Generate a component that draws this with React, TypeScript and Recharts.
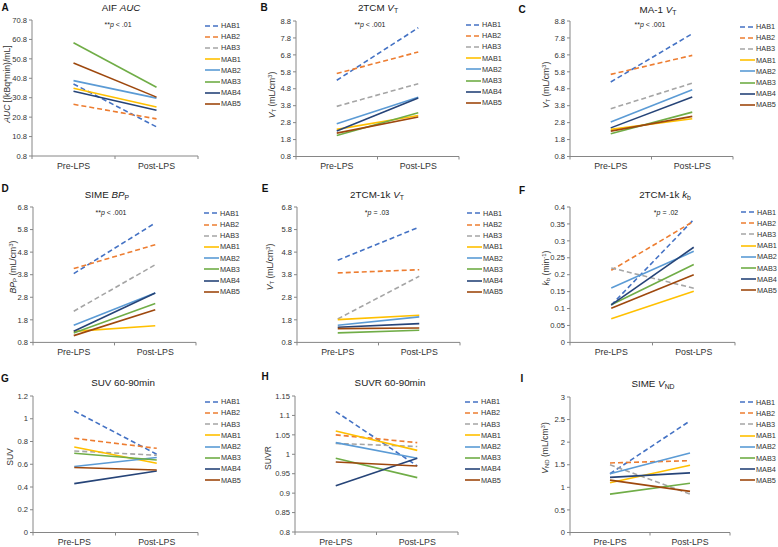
import React from 'react'
import { LineChart, Line, XAxis, YAxis } from 'recharts'

// ── Shared bits ───────────────────────────────────────────────────────────────

const FONT = '"Liberation Sans", Arial, sans-serif'
const AXIS = '#868686'
const TEXT = '#333333'

const CATEGORIES = ['Pre-LPS', 'Post-LPS']
const SERIES = ['HAB1', 'HAB2', 'HAB3', 'MAB1', 'MAB2', 'MAB3', 'MAB4', 'MAB5']
const COLORS = ['#4472C4', '#ED7D31', '#A5A5A5', '#FFC000', '#5B9BD5', '#70AD47', '#264478', '#9E480E']
const DASHED = [true, true, true, false, false, false, false, false]

// ── Values (series order as SERIES) ───────────────────────────────────────────

const aucPre = [37.9, 27.4, null, 35.7, 39.6, 59.1, 34.1, 48.7]
const aucPost = [15.8, 19.9, null, 26.0, 30.6, 36.2, 24.3, 31.1]
const aucTicks = [0.8, 10.8, 20.8, 30.8, 40.8, 50.8, 60.8, 70.8]

const tcmPre = [5.3, 5.7, 3.76, 2.4, 2.73, 2.04, 2.3, 2.18]
const tcmPost = [8.4, 6.97, 5.1, 3.22, 4.3, 3.38, 4.25, 3.13]
const ma1Pre = [5.2, 5.65, 3.62, 2.4, 2.83, 2.14, 2.49, 2.3]
const ma1Post = [8.05, 6.77, 5.13, 3.03, 4.74, 3.42, 4.31, 3.17]
const vt8Ticks = [0.8, 1.8, 2.8, 3.8, 4.8, 5.8, 6.8, 7.8, 8.8]

const bpPre = [3.85, 4.07, 2.18, 1.29, 1.56, 1.22, 1.29, 1.1]
const bpPost = [6.09, 5.13, 4.24, 1.54, 2.99, 2.52, 2.99, 2.25]
const tcm1kPre = [4.44, 3.88, 1.84, 1.81, 1.56, 1.22, 1.47, 1.41]
const tcm1kPost = [5.91, 4.02, 3.73, 2.0, 1.93, 1.34, 1.63, 1.44]
const vt6Ticks = [0.8, 1.8, 2.8, 3.8, 4.8, 5.8, 6.8]

const kbPre = [0.11, 0.213, 0.22, 0.07, 0.161, 0.111, 0.111, 0.101]
const kbPost = [0.363, 0.358, 0.16, 0.151, 0.269, 0.23, 0.281, 0.2]
const kbTicks = [0, 0.05, 0.1, 0.15, 0.2, 0.25, 0.3, 0.35, 0.4]

const suvPre = [1.068, 0.828, 0.717, 0.752, 0.58, 0.697, 0.43, 0.571]
const suvPost = [0.688, 0.74, 0.679, 0.609, 0.659, 0.638, 0.541, 0.55]
const suvTicks = [0, 0.2, 0.4, 0.6, 0.8, 1, 1.2]

const suvrPre = [1.11, 1.05, 1.028, 1.06, 1.03, 0.99, 0.919, 0.98]
const suvrPost = [0.97, 1.03, 1.02, 1.01, 0.99, 0.94, 0.99, 0.97]
const suvrTicks = [0.8, 0.85, 0.9, 0.95, 1, 1.05, 1.1, 1.15]

const vndPre = [1.3, 1.54, 1.5, 1.1, 1.3, 0.85, 1.22, 1.16]
const vndPost = [2.47, 1.59, 0.85, 1.49, 1.76, 1.09, 1.32, 0.91]
const vndTicks = [0, 0.5, 1, 1.5, 2, 2.5, 3]

// x axis: categories sit at 0.5 / 1.5, tick marks between them
const X_TICKS = [0, 0.5, 1, 1.5, 2]

// ── Panel pieces ──────────────────────────────────────────────────────────────

type Rect = { left: number; right: number; top: number; bottom: number }

type PanelDef = {
  letter: string
  letterPos: [number, number]
  title: React.ReactNode
  titlePos: [number, number]
  yLabel: React.ReactNode
  yLabelPos: [number, number]
  pText?: React.ReactNode
  pPos?: [number, number]
  pre: (number | null)[]
  post: (number | null)[]
  ticks: number[]
  plot: Rect
  legend: [number, number]
}

function XTick(props: any) {
  const { x, y, payload } = props
  const v = payload.value
  if (Number.isInteger(v)) {
    return <line x1={x} x2={x} y1={y} y2={y + 3} stroke={AXIS} strokeWidth={1} />
  }
  return (
    <text x={x} y={y + 12.5} textAnchor="middle" fontSize={8.8} fill={TEXT} fontFamily={FONT}>
      {CATEGORIES[Math.floor(v)]}
    </text>
  )
}

const YW = 32
const MT = 6
const MR = 4
const XH = 22

function PanelChart({ def }: { def: PanelDef }) {
  const { plot, ticks } = def
  const pw = plot.right - plot.left
  const ph = plot.bottom - plot.top
  const rows = CATEGORIES.map((c, ci) => {
    const row: Record<string, number | string | null> = { x: ci + 0.5, cat: c }
    SERIES.forEach((s, si) => {
      row[s] = ci === 0 ? def.pre[si] : def.post[si]
    })
    return row
  })
  return (
    <div style={{ position: 'absolute', left: plot.left - YW, top: plot.top - MT }}>
      <LineChart
        width={YW + pw + MR}
        height={MT + ph + XH}
        data={rows}
        margin={{ top: MT, right: MR, bottom: 0, left: 0 }}
      >
        <XAxis
          type="number"
          dataKey="x"
          domain={[0, 2]}
          ticks={X_TICKS}
          interval={0}
          height={XH}
          tickLine={false}
          tickSize={0}
          tickMargin={0}
          axisLine={{ stroke: AXIS, strokeWidth: 1 }}
          tick={<XTick />}
        />
        <YAxis
          type="number"
          domain={[ticks[0], ticks[ticks.length - 1]]}
          ticks={ticks}
          interval={0}
          width={YW}
          tickSize={3}
          tickMargin={2}
          axisLine={{ stroke: AXIS, strokeWidth: 1 }}
          tickLine={{ stroke: AXIS, strokeWidth: 1 }}
          tick={{ fontSize: 7.6, fill: TEXT, fontFamily: FONT }}
          tickFormatter={(v: number) => String(v)}
        />
        {SERIES.map((s, i) => (
          <Line
            key={s}
            type="linear"
            dataKey={s}
            stroke={COLORS[i]}
            strokeWidth={1.6}
            strokeDasharray={DASHED[i] ? '5 3' : undefined}
            dot={false}
            activeDot={false}
            isAnimationActive={false}
          />
        ))}
      </LineChart>
    </div>
  )
}

function LegendBlock({ x, y }: { x: number; y: number }) {
  return (
    <>
      {SERIES.map((s, i) => (
        <div
          key={s}
          style={{
            position: 'absolute', left: x, top: y + i * 11.2 - 5, height: 10,
            display: 'flex', alignItems: 'center', fontSize: 7.3, fontFamily: FONT,
            color: TEXT, whiteSpace: 'nowrap',
          }}
        >
          <svg width={15} height={10} style={{ display: 'block' }}>
            <line
              x1={0} x2={15} y1={5} y2={5}
              stroke={COLORS[i]} strokeWidth={1.6}
              strokeDasharray={DASHED[i] ? '5 3' : undefined}
            />
          </svg>
          <span style={{ marginLeft: 1 }}>{s}</span>
        </div>
      ))}
    </>
  )
}

const centered = (x: number, y: number): React.CSSProperties => ({
  position: 'absolute', left: x, top: y, transform: 'translate(-50%, -50%)', whiteSpace: 'nowrap',
})

function Panel({ def }: { def: PanelDef }) {
  return (
    <>
      <div style={{ ...centered(def.letterPos[0], def.letterPos[1]), fontWeight: 700, fontSize: 10, fontFamily: FONT, color: '#111' }}>
        {def.letter}
      </div>
      <div style={{ ...centered(def.titlePos[0], def.titlePos[1]), fontSize: 9.8, fontFamily: FONT, color: '#222' }}>
        {def.title}
      </div>
      {def.pText && def.pPos && (
        <div style={{ ...centered(def.pPos[0], def.pPos[1]), fontSize: 7, fontFamily: FONT, color: '#222' }}>
          {def.pText}
        </div>
      )}
      <div
        style={{
          position: 'absolute', left: def.yLabelPos[0], top: def.yLabelPos[1],
          transform: 'translate(-50%, -50%) rotate(-90deg)', whiteSpace: 'nowrap',
          fontSize: 8.6, fontFamily: FONT, color: TEXT,
        }}
      >
        {def.yLabel}
      </div>
      <PanelChart def={def} />
      <LegendBlock x={def.legend[0]} y={def.legend[1]} />
    </>
  )
}

const sub = (t: string) => <sub style={{ fontSize: '0.7em', verticalAlign: '-0.25em' }}>{t}</sub>
const sup = (t: string) => <sup style={{ fontSize: '0.7em', verticalAlign: '0.4em' }}>{t}</sup>
const vtLabel = <><i>V</i>{sub('T')} (mL/cm{sup('3')})</>

const PANELS: PanelDef[] = [
  {
    letter: 'A', letterPos: [5, 7], title: <>AIF <i>AUC</i></>, titlePos: [121, 7],
    yLabel: <><i>AUC</i> [(kBq*min)/mL]</>, yLabelPos: [7, 84],
    pText: <>**<i>p</i> &lt; .01</>, pPos: [118, 24],
    pre: aucPre, post: aucPost, ticks: aucTicks,
    plot: { left: 32, right: 198, top: 20, bottom: 156 }, legend: [205, 25.5],
  },
  {
    letter: 'B', letterPos: [264, 7], title: <>2TCM <i>V</i>{sub('T')}</>, titlePos: [378, 8],
    yLabel: vtLabel, yLabelPos: [272, 95],
    pText: <>**<i>p</i> &lt; .001</>, pPos: [370, 24],
    pre: tcmPre, post: tcmPost, ticks: vt8Ticks,
    plot: { left: 296, right: 459, top: 20.5, bottom: 156 }, legend: [466, 24.5],
  },
  {
    letter: 'C', letterPos: [522, 9], title: <>MA-1 <i>V</i>{sub('T')}</>, titlePos: [658, 10],
    yLabel: vtLabel, yLabelPos: [546, 85],
    pText: <>**<i>p</i> &lt; .001</>, pPos: [650, 24],
    pre: ma1Pre, post: ma1Post, ticks: vt8Ticks,
    plot: { left: 570, right: 733, top: 20.5, bottom: 156 }, legend: [740, 26.5],
  },
  {
    letter: 'D', letterPos: [5, 188], title: <>SIME <i>BP</i>{sub('P')}</>, titlePos: [107, 195],
    yLabel: <><i>BP</i>{sub('P')} (mL/cm{sup('3')})</>, yLabelPos: [13, 267],
    pText: <>**<i>p</i> &lt; .001</>, pPos: [111, 212],
    pre: bpPre, post: bpPost, ticks: vt6Ticks,
    plot: { left: 33, right: 196, top: 207.3, bottom: 342.7 }, legend: [204, 213.3],
  },
  {
    letter: 'E', letterPos: [265, 188], title: <>2TCM-1k <i>V</i>{sub('T')}</>, titlePos: [377, 195],
    yLabel: vtLabel, yLabelPos: [270, 267],
    pText: <>*<i>p</i> = .03</>, pPos: [377, 212],
    pre: tcm1kPre, post: tcm1kPost, ticks: vt6Ticks,
    plot: { left: 297, right: 460, top: 207.3, bottom: 342.7 }, legend: [467, 213.3],
  },
  {
    letter: 'F', letterPos: [522, 190], title: <>2TCM-1k <i>k</i>{sub('b')}</>, titlePos: [665, 195],
    yLabel: <><i>k</i>{sub('b')} (min{sup('-1')})</>, yLabelPos: [546, 268],
    pText: <>*<i>p</i> = .02</>, pPos: [666, 212],
    pre: kbPre, post: kbPost, ticks: kbTicks,
    plot: { left: 570, right: 735, top: 207.3, bottom: 342.7 }, legend: [741, 212],
  },
  {
    letter: 'G', letterPos: [5, 378], title: <>SUV 60-90min</>, titlePos: [123, 382],
    yLabel: <>SUV</>, yLabelPos: [10, 457],
    pre: suvPre, post: suvPost, ticks: suvTicks,
    plot: { left: 33, right: 198, top: 395.5, bottom: 532 }, legend: [205, 401.7],
  },
  {
    letter: 'H', letterPos: [265, 376], title: <>SUVR 60-90min</>, titlePos: [390, 382],
    yLabel: <>SUVR</>, yLabelPos: [268, 458],
    pre: suvrPre, post: suvrPost, ticks: suvrTicks,
    plot: { left: 295, right: 458, top: 396, bottom: 532 }, legend: [465, 401.7],
  },
  {
    letter: 'I', letterPos: [522, 378], title: <>SIME <i>V</i>{sub('ND')}</>, titlePos: [653, 384],
    yLabel: <><i>V</i>{sub('ND')} (mL/cm{sup('3')})</>, yLabelPos: [545, 448],
    pre: vndPre, post: vndPost, ticks: vndTicks,
    plot: { left: 570, right: 730, top: 397, bottom: 532.5 }, legend: [740, 402],
  },
]

export default function App() {
  return (
    <div
      style={{
        position: 'absolute', left: 0, top: 0, width: 778, height: 547,
        background: '#fff', overflow: 'hidden', fontFamily: FONT,
      }}
    >
      {PANELS.map((p) => (
        <Panel key={p.letter} def={p} />
      ))}
    </div>
  )
}
